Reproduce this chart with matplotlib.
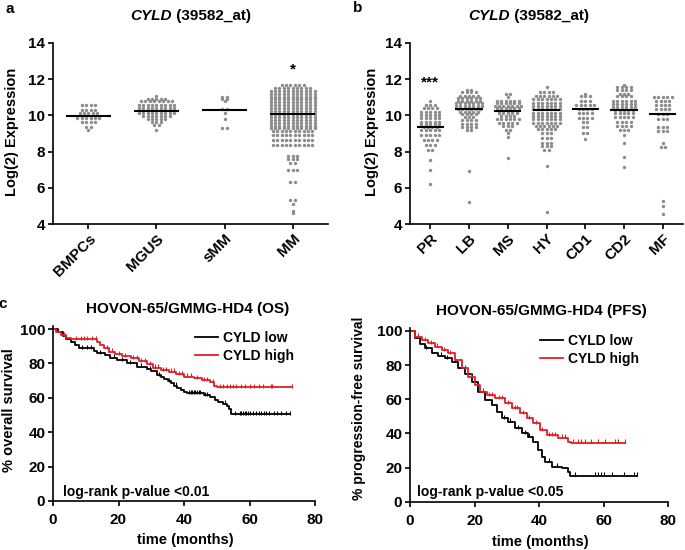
import numpy as np
import matplotlib
matplotlib.use("Agg")
import matplotlib.pyplot as plt

plt.rcParams['font.family'] = ['Liberation Sans', 'DejaVu Sans']
plt.rcParams['font.weight'] = 'bold'

W, H = 685, 550
GREY = '#8c8c8c'
RED = '#e31e24'

# ---- panel a: expression per group (row level, number of dots in the row) ----
groups_a = ['BMPCs', 'MGUS', 'sMM', 'MM']
bmpcs_lv = [10.6, 10.3, 10.12, 9.87, 9.62, 9.38, 9.18]
bmpcs_n = [4, 4, 5, 6, 4, 2, 1]
mgus_lv = [11.05, 10.9, 10.77, 10.59, 10.4, 10.14, 9.94, 9.8, 9.63, 9.45, 9.2]
mgus_n = [1, 5, 8, 9, 9, 9, 7, 5, 3, 2, 1]
smm_lv = [11.0, 10.9, 10.8, 10.35, 10.12, 9.8, 9.33]
smm_n = [2, 2, 1, 2, 1, 1, 2]
mm_lv = [11.68, 11.52, 11.36, 11.2, 11.04, 10.88, 10.72, 10.56, 10.4, 10.24,
         10.08, 9.92, 9.76, 9.6, 9.44, 9.28, 9.12, 8.9, 8.65, 8.38,
         7.78, 7.6, 7.35, 7.0, 6.3, 5.3, 5.12, 4.72, 4.62]
mm_n = [6, 9, 11, 11, 11, 11, 11, 11, 11, 11,
        11, 11, 11, 11, 11, 11, 10, 10, 10, 10,
        3, 3, 2, 3, 2, 2, 1, 1, 1]
means_a = [9.98, 10.27, 10.3, 10.1]

# ---- panel b: molecular subgroups ----
groups_b = ['PR', 'LB', 'MS', 'HY', 'CD1', 'CD2', 'MF']
pr_lv = [10.82, 10.59, 10.4, 10.21, 10.03, 9.85, 9.66, 9.52, 9.37, 9.2, 8.92, 8.65, 8.37, 8.1, 7.54, 6.99, 6.2]
pr_n = [1, 3, 4, 5, 5, 5, 5, 5, 4, 5, 5, 4, 3, 2, 1, 1, 1]
lb_lv = [11.42, 11.27, 11.08, 10.95, 10.82, 10.68, 10.53, 10.38, 10.21, 10.09, 9.9, 9.72, 9.53, 9.35, 9.2, 6.93, 5.24]
lb_n = [2, 4, 5, 6, 6, 7, 7, 6, 5, 4, 3, 4, 4, 4, 2, 1, 1]
ms_lv = [11.19, 11.0, 10.82, 10.68, 10.53, 10.4, 10.27, 10.12, 9.94, 9.8, 9.6, 9.42, 9.2, 9.02, 8.83, 7.63]
ms_n = [2, 1, 6, 6, 7, 6, 5, 5, 4, 6, 5, 3, 2, 1, 1, 1]
hy_lv = [11.56, 11.27, 11.08, 10.9, 10.71, 10.53, 10.35, 10.16, 9.98, 9.8, 9.6, 9.42, 9.24, 9.02, 8.74, 8.5, 8.32, 8.1, 7.21, 4.68]
hy_n = [1, 4, 6, 7, 7, 7, 7, 7, 7, 7, 7, 6, 5, 3, 3, 3, 3, 2, 1, 1]
cd1_lv = [11.19, 11.05, 10.82, 10.59, 10.35, 10.12, 9.85, 9.66, 9.38, 9.05, 8.69]
cd1_n = [1, 3, 3, 5, 4, 4, 4, 2, 2, 2, 1]
cd2_lv = [11.69, 11.56, 11.42, 11.19, 11.05, 10.82, 10.64, 10.46, 10.31, 10.12, 9.9, 9.66, 9.42, 9.2, 8.92, 8.47, 7.72, 7.14]
cd2_n = [1, 4, 4, 3, 4, 6, 6, 6, 5, 5, 5, 4, 4, 3, 1, 1, 1, 1]
mf_lv = [11.01, 10.77, 10.59, 10.35, 10.07, 9.8, 9.38, 9.16, 8.47, 8.28, 5.29, 5.0, 4.55]
mf_n = [5, 4, 4, 4, 3, 3, 3, 3, 1, 2, 1, 1, 1]
means_b = [9.37, 10.38, 10.27, 10.32, 10.35, 10.31, 10.07]

# ---- panel c: Kaplan-Meier curves (step start time, survival %) ----
os_low_t = [0, 1.5, 3.0, 4.0, 5.5, 6.8, 8.0, 12.4, 13.4, 16.0, 17.5, 19.6, 22.7, 25.7, 28.8, 30,
            31.9, 33, 34, 35, 36, 37, 38, 39, 40.1, 41, 46, 48, 49.5, 50.5, 52, 53, 53.8, 54.4]
os_low_s = [100, 98, 96, 94, 92.5, 91, 89, 87.2, 85.9, 84.9, 83.3, 82, 80, 78.1, 76.5, 75.6,
            73.3, 72, 71, 69.7, 68.4, 67, 66, 64.5, 63.2, 62.6, 61.6, 60.5, 59, 57.8, 56.5, 55.4, 53.5, 50.5]
os_low_end = 72.3
os_low_cens = [9, 10.5, 11.5, 14.5, 18.5, 21, 23.5, 27, 29.5, 32.5, 35.5, 37.5, 41.5, 42, 42.5, 43,
               43.5, 44, 44.5, 45, 46.5, 47, 52.5, 55.5, 57, 57.5, 58, 58.5, 59, 59.5, 60, 61, 62,
               63, 63.5, 64.5, 65, 66, 67.5, 68.5, 69.5, 71, 72.3]
os_high_t = [0, 1, 2.5, 4, 5.5, 13.4, 14.5, 15.5, 17, 19, 21, 23.7, 26.3, 28.8, 30.4, 32.9, 35.5,
             37.5, 40, 43.2, 45.5, 47.8, 49.3, 50]
os_high_s = [100, 98.4, 96.5, 95, 94.2, 92.6, 90.7, 88.8, 86.8, 85.5, 84.3, 83, 81.4, 79.5, 77.5,
             76.2, 75.2, 73.6, 72.3, 71.3, 70.3, 69, 67, 66.3]
os_high_end = 73
os_high_cens = [3.5, 7, 8.5, 9.5, 10.5, 12, 13, 16.5, 18, 20, 22, 24.5, 25.5, 27, 28, 29.5, 31, 32,
                33.5, 34.5, 36, 37, 38.5, 39.5, 41, 42, 44, 46, 47, 49, 51, 52, 53, 54, 55, 56, 57.5,
                58.5, 60, 61.5, 63, 64, 66.5, 67, 73]

pfs_low_t = [0, 1.5, 3.1, 4.6, 6.7, 8.8, 10.8, 12.9, 15, 17, 19.1, 21.2, 23.2, 25.3, 26.8, 28.4,
             30.4, 32.5, 34.6, 36.6, 38.2, 39.7, 40.8, 41.8, 43.9, 47, 49, 49.5]
pfs_low_s = [100, 95.7, 92.2, 89.8, 86.9, 85.5, 84, 82, 78.5, 74.6, 70.3, 64.5, 59.6, 56.6, 52.3,
             48.8, 46.9, 43, 40, 38.1, 35.2, 30.3, 26.4, 23.4, 20.5, 19.5, 17.6, 15.2]
pfs_low_end = 70.2
pfs_low_cens = [5, 9.5, 11.5, 14, 29, 31, 33.5, 35.5, 37, 43, 45.5, 51, 57.2, 58.2, 59.3, 60.2,
                62.7, 66.3, 69.5, 70.2]
pfs_high_t = [0, 1.5, 3.6, 5.7, 7.7, 9.8, 11.9, 13.9, 16, 18.1, 20.1, 21.7, 23.7, 26.3, 29.4,
              31.5, 34, 36.1, 38.2, 40.2, 42.3, 45.9, 49, 49.8]
pfs_high_s = [100, 96.7, 94.7, 92.8, 90.8, 88.9, 86.9, 83, 78.1, 73.2, 68.4, 64.5, 62.5, 60.5,
              57.6, 54.7, 51.8, 48.8, 45.9, 42, 39.1, 37.5, 35.2, 34.5]
pfs_high_end = 66.6
pfs_high_cens = [2.5, 4.5, 6.5, 8.5, 10.5, 12.5, 17, 19, 22.5, 24.5, 25.5, 27.5, 28.5, 30.5, 32.5,
                 33, 35, 37, 39, 41, 43, 44, 45, 47, 48, 50.5, 52, 53.1, 54.2, 56.2, 58.3, 60.4,
                 63.5, 64.5, 66.6]


def px_axes(x0, y0, x1, y1):
    # axes box given in pixel coords (top-left origin)
    return [x0 / W, 1 - y1 / H, (x1 - x0) / W, (y1 - y0) / H]


def style(ax, lw=1.2):
    for s in ['top', 'right']:
        ax.spines[s].set_visible(False)
    for s in ['left', 'bottom']:
        ax.spines[s].set_linewidth(lw)
    ax.tick_params(direction='out', length=3.5, width=lw, labelsize=11, pad=2)


def dot_rows(ax, levels, counts, center, dx):
    xs, ys = [], []
    for lv, n in zip(levels, counts):
        offs = (np.arange(n) - (n - 1) / 2) * dx
        xs.extend(center + offs)
        ys.extend([lv] * n)
    ax.scatter(xs, ys, s=6, color=GREY, linewidths=0, zorder=2)


fig = plt.figure(figsize=(W / 100, H / 100), dpi=100)

# ---------------- panel a ----------------
axa = fig.add_axes(px_axes(53, 43, 328, 224))
data_a = [(bmpcs_lv, bmpcs_n), (mgus_lv, mgus_n), (smm_lv, smm_n), (mm_lv, mm_n)]
for i, (lv, n) in enumerate(data_a):
    dot_rows(axa, lv, n, i, 4.4 / 67.8)
axa.hlines(means_a, np.arange(4) - 0.33, np.arange(4) + 0.33, color='black', lw=1.5, zorder=3)
axa.text(3, 12.55, '*', ha='center', va='center', fontsize=11)
axa.set_xlim(-0.52, 3.52)
axa.set_ylim(4, 14)
axa.set_yticks([4, 6, 8, 10, 12, 14])
axa.set_xticks(range(4))
axa.set_xticklabels(groups_a, rotation=45, ha='right', rotation_mode='anchor', fontsize=9.5)
style(axa)

# ---------------- panel b ----------------
axb = fig.add_axes(px_axes(410, 43, 683, 224))
data_b = [(pr_lv, pr_n), (lb_lv, lb_n), (ms_lv, ms_n), (hy_lv, hy_n),
          (cd1_lv, cd1_n), (cd2_lv, cd2_n), (mf_lv, mf_n)]
for i, (lv, n) in enumerate(data_b):
    dot_rows(axb, lv, n, i, 4.4 / 38.8)
axb.hlines(means_b, np.arange(7) - 0.35, np.arange(7) + 0.35, color='black', lw=1.5, zorder=3)
axb.text(0, 11.8, '***', ha='center', va='center', fontsize=11)
axb.set_xlim(-0.52, 6.52)
axb.set_ylim(4, 14)
axb.set_yticks([4, 6, 8, 10, 12, 14])
axb.set_xticks(range(7))
axb.set_xticklabels(groups_b, rotation=45, ha='right', rotation_mode='anchor', fontsize=9.5)
style(axb)


# ---------------- panel c ----------------
def km(ax, t, s, end, cens, color, label):
    tt = list(t) + [end]
    ss = list(s) + [s[-1]]
    ax.step(tt, ss, where='post', color=color, lw=1.3, label=label)
    idx = np.searchsorted(t, cens, side='right') - 1
    cy = np.array(s)[idx]
    ax.plot(cens, cy + 0.8, ls='none', marker='|', ms=3.5, mew=0.8, color=color)


axc1 = fig.add_axes(px_axes(53, 325.6, 315, 501))
km(axc1, os_low_t, os_low_s, os_low_end, os_low_cens, 'black', 'CYLD low')
km(axc1, os_high_t, os_high_s, os_high_end, os_high_cens, RED, 'CYLD high')
axc1.text(0.038, 0.053, 'log-rank p-value <0.01', transform=axc1.transAxes, va='center', fontsize=10)

axc2 = fig.add_axes(px_axes(410, 327.5, 668.3, 501.7))
km(axc2, pfs_low_t, pfs_low_s, pfs_low_end, pfs_low_cens, 'black', 'CYLD low')
km(axc2, pfs_high_t, pfs_high_s, pfs_high_end, pfs_high_cens, RED, 'CYLD high')
axc2.text(0.027, 0.057, 'log-rank p-value <0.05', transform=axc2.transAxes, va='center', fontsize=10)

for ax, lx, ly in [(axc1, 0.542, 0.969), (axc2, 0.503, 0.963)]:
    ax.set_xlim(0, 80)
    ax.set_ylim(0, 102)
    ax.set_xticks([0, 20, 40, 60, 80])
    ax.set_yticks([0, 20, 40, 60, 80, 100])
    style(ax)
    ax.tick_params(axis='x', pad=5)
    ax.legend(loc='upper left', bbox_to_anchor=(lx, ly), frameon=False, fontsize=10,
              handlelength=1.65, handletextpad=0.4, labelspacing=0.3, borderpad=0,
              borderaxespad=0)


# ---------------- texts ----------------
def ftext(x, y, s, **kw):
    return fig.text(x / W, 1 - y / H, s, **kw)


ftext(10, 9, 'a', ha='center', va='center', fontsize=11)
ftext(358, 8, 'b', ha='center', va='center', fontsize=11)
ftext(3, 304, 'c', ha='center', va='center', fontsize=11)

# gene name in italics, probe set id upright right after it
for x0 in [130, 468]:
    t1 = ftext(x0, 20, 'CYLD', ha='left', va='baseline', fontsize=11, style='italic')
    axa.annotate(' (39582_at)', xy=(1, 0), xycoords=t1, va='bottom', ha='left', fontsize=11,
                 annotation_clip=False)

ftext(188, 313, 'HOVON-65/GMMG-HD4 (OS)', ha='center', va='baseline', fontsize=11)
ftext(541, 315, 'HOVON-65/GMMG-HD4 (PFS)', ha='center', va='baseline', fontsize=11)

ftext(12.5, 131.5, 'Log(2) Expression', rotation=90, ha='center', va='center', fontsize=10.5)
ftext(372.5, 131.5, 'Log(2) Expression', rotation=90, ha='center', va='center', fontsize=10.5)
ftext(9, 410, '% overall survival', rotation=90, ha='center', va='center', fontsize=10.5)
ftext(358.5, 408, '% progression-free survival', rotation=90, ha='center', va='center', fontsize=10)
ftext(185, 540, 'time (months)', ha='center', va='center', fontsize=10.5)
ftext(540, 542, 'time (months)', ha='center', va='center', fontsize=10.5)

fig.savefig('out.png', dpi=100)
